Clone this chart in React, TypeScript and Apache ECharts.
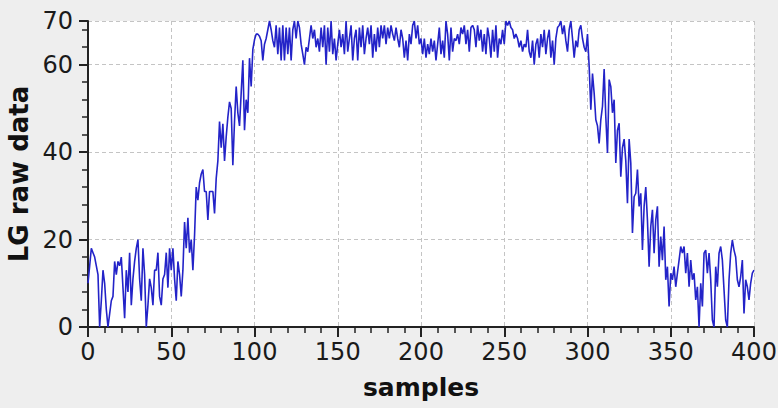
import React, { useEffect, useRef } from "react";
import * as echarts from "echarts";

// LG raw data, samples 0..100 (rising edge)
const rampUp = [
  10, 14, 18, 17, 16, 14, 12, 0, 6, 13,
  10, 4, 0, 3, 6, 7, 15, 12, 15, 14,
  16, 9, 2, 13, 8, 17, 5, 11, 15, 18,
  20, 11, 6, 18, 12, 0, 5, 11, 9, 5,
  13, 13, 17, 7, 5, 11, 12, 17, 9, 18,
  13, 18, 11, 6, 15, 12, 7, 13, 24, 18,
  25, 17, 20, 13, 21, 32, 29, 33, 35, 36,
  31, 31, 24.5, 31, 31, 31, 26, 34, 38, 47,
  41, 46.5, 38, 43.5, 48, 51.5, 50, 37, 47, 55,
  49, 46, 53.5, 61, 45, 52, 49, 61.5, 55, 63.5,
  65.7,
];
// samples 101..200
const plateauA = [
  67, 67, 66.5, 65.5, 61, 64.7, 66, 68, 70, 68,
  65.5, 64, 69, 62.4, 68.5, 61, 69, 61, 68.5, 62.4,
  68.5, 61, 68, 70, 66, 70, 68.5, 64.7, 62.4, 60,
  64, 63, 66, 69, 66, 68, 64, 66, 63, 68.5,
  64, 69, 60, 68.5, 63, 70, 62.4, 66, 61, 64.7,
  68, 64, 67, 62.4, 70, 63, 66, 69, 61, 66,
  68, 61, 68.5, 64, 69, 62.4, 66, 68.5, 64.7, 69,
  61.6, 67, 63, 68.5, 64, 69, 66, 69, 64.7, 68.5,
  66, 69, 67, 65.5, 68.5, 66, 64, 68, 66, 61.6,
  65.5, 61, 67, 64.7, 69, 70, 66, 69, 64.7, 66,
];
// samples 201..300
const plateauB = [
  62.4, 66, 61.6, 64.7, 62.4, 66, 63, 65.5, 61, 64.7,
  68.5, 62.4, 65.5, 61.6, 70, 67, 61, 68.5, 63, 66,
  65.5, 67, 64.7, 68.5, 67, 69, 64.7, 68, 63, 68.5,
  69, 68, 64, 69, 65.5, 68, 63, 67, 62.4, 68.5,
  66, 61.6, 68, 63, 69, 61.6, 66, 64.7, 68, 64.7,
  70, 69, 70, 68.5, 68, 66, 67, 66, 64, 65.5,
  63, 64.7, 64, 68, 63, 61.6, 65.5, 60, 64.7, 66,
  61.6, 67, 64, 68, 62.4, 66, 68, 61.6, 65.5, 60,
  66, 68.5, 69, 70, 67, 69, 65.5, 63, 68, 70,
  66, 61.6, 65.5, 64, 68, 69, 66, 64, 63, 67,
];
// samples 301..400 (falling edge)
const rampDown = [
  59.6, 49.7, 58, 53.5, 47.4, 46, 42, 47.4, 50.5, 59,
  48, 39.8, 56.6, 55, 49, 52, 37.5, 45, 46.6, 34.4,
  41, 43, 38, 28.3, 43, 37.5, 21.5, 29.8, 30.6, 36,
  27.6, 30.6, 17.6, 27.6, 32, 24.5, 13.8, 23, 26.8, 16.9,
  24.5, 27.6, 13.8, 20.7, 15.3, 23, 10.8, 13.8, 4.7, 12.3,
  10.8, 13.8, 9.2, 12.3, 15.3, 18.4, 16.9, 18.4, 12.3, 16.9,
  9.2, 15.3, 10.8, 12.3, 6.2, 9.2, 0, 10, 4.7, 16.9,
  17.6, 12.3, 16.9, 10.8, 1.6, 0, 13.8, 9.2, 16.9, 18.4,
  15.3, 8.5, 1.6, 0, 10.8, 16.9, 19.9, 17.6, 16, 10.8,
  9.2, 11.5, 15.3, 3.1, 10.8, 9.2, 6.2, 10, 12.3, 13,
];

const lgRaw = [...rampUp, ...plateauA, ...plateauB, ...rampDown];

const xTicks = { min: 0, max: 400, interval: 50 };
const yTicks = { min: 0, max: 70, interval: 20 };

const xName = "samples";
const yName = "LG raw data";

export default function App() {
  const ref = useRef<HTMLDivElement>(null);

  useEffect(() => {
    document.body.style.margin = "0";
    if (!ref.current) return;
    const chart = echarts.init(ref.current, undefined, { renderer: "svg" });
    const font = "DejaVu Sans";
    const axisLine = { show: true, onZero: false, lineStyle: { color: "#222", width: 2 } };
    const split = { show: true, lineStyle: { color: "#c4c4c4", type: [4, 3] as any, width: 1 } };
    chart.setOption({
      animation: false,
      backgroundColor: "#eeeeee",
      grid: {
        left: 88, right: 24, top: 21, bottom: 81,
        show: true, backgroundColor: "#ffffff", borderWidth: 0,
        containLabel: false, outerBoundsMode: "none",
      },
      xAxis: {
        type: "value",
        ...xTicks,
        name: xName,
        nameLocation: "middle",
        nameGap: 48,
        nameTextStyle: { fontFamily: font, fontWeight: "bold", fontSize: 25, color: "#111" },
        axisLine,
        axisTick: { show: true, length: 10, inside: false, lineStyle: { color: "#222", width: 2 } },
        minorTick: { show: true, splitNumber: 5, length: 6, lineStyle: { color: "#222", width: 1.5 } },
        axisLabel: { fontFamily: font, fontSize: 24, color: "#1a1a1a", margin: 13, showMaxLabel: true, showMinLabel: true },
        splitLine: split,
      },
      yAxis: {
        type: "value",
        ...yTicks,
        name: yName,
        nameLocation: "middle",
        nameGap: 45,
        nameTextStyle: { fontFamily: font, fontWeight: "bold", fontSize: 26, color: "#111" },
        axisLine,
        axisTick: { show: true, length: 9, inside: false, lineStyle: { color: "#222", width: 2 } },
        minorTick: { show: true, splitNumber: 5, length: 6, lineStyle: { color: "#222", width: 1.5 } },
        axisLabel: { fontFamily: font, fontSize: 24, color: "#1a1a1a", margin: 15, showMaxLabel: true },
        splitLine: split,
      },
      series: [
        {
          type: "line",
          data: lgRaw.map((v, i) => [i, v]),
          showSymbol: false,
          clip: true,
          lineStyle: { color: "#2323c8", width: 1.6 },
          itemStyle: { color: "#2323c8" },
        },
      ],
    });
    return () => chart.dispose();
  }, []);

  return (
    <div
      ref={ref}
      style={{ position: "absolute", left: 0, top: 0, width: 778, height: 408 }}
    />
  );
}
